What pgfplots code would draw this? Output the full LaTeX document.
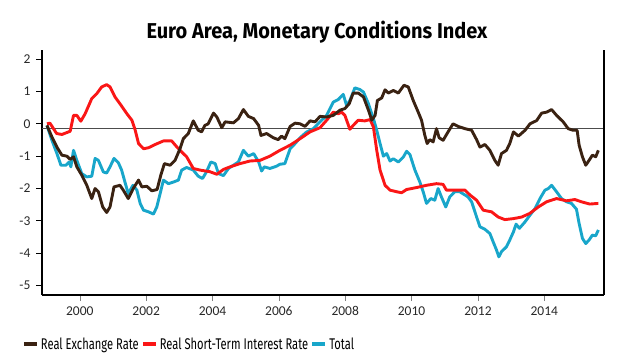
\documentclass[border=0pt]{standalone}
\usepackage{fontspec}
\usepackage{pgfplots}
\pgfplotsset{compat=1.18}
\setmainfont{Carlito}
\newfontfamily\titlefont{Fira Sans}[FakeStretch=0.93]
\newfontfamily\legfont{Fira Sans}[FakeStretch=0.72]
\definecolor{cbrown}{RGB}{58,34,18}
\definecolor{cred}{RGB}{250,22,22}
\definecolor{cblue}{RGB}{24,166,202}
\definecolor{ctick}{RGB}{40,40,40}
\begin{document}
\begin{tikzpicture}[x=1pt,y=1pt]
\useasboundingbox (0,0) rectangle (640,360);
\node[font=\titlefont\bfseries\fontsize{21.5}{24}\selectfont] at (317,328) {Euro Area, Monetary Conditions Index};
\begin{axis}[
  at={(42pt,65pt)}, anchor=south west,
  scale only axis, width=562pt, height=245pt,
  xmin=1998.86, xmax=2015.8, ymin=-5.29, ymax=2.28,
  axis x line*=bottom, axis y line*=left,
  axis line style={line width=1.8pt, black, -},
  xtick={2000,2002,...,2014}, ytick={-5,-4,...,2},
  tick align=outside, major tick length=6pt,
  x tick style={gray, line width=0.6pt},
  y tick style={black, line width=1pt},
  /pgf/number format/assume math mode=true,
  xticklabel style={/pgf/number format/1000 sep=, font=\fontsize{13.5}{15}\selectfont, text=ctick, yshift=-2pt},
  yticklabel style={font=\fontsize{13.5}{15}\selectfont, text=ctick, xshift=-2pt},
  clip=false,
  legend columns=-1,
  legend style={at={(-0.036,-0.2)}, anchor=west, draw=none, fill=none, inner sep=0pt,
    font=\legfont\fontsize{15.5}{17}\selectfont, text=black,
    /tikz/every even column/.append style={column sep=0pt}},
  legend image code/.code={\draw[#1, line width=4pt] (0pt,0pt) -- (13pt,0pt);},
  every axis plot/.append style={line width=2.9pt, line join=round},
]
\draw[gray!60!black, line width=1pt] (axis cs:1998.86,-0.15) -- (axis cs:2015.8,-0.15);
\draw[black, line width=1.8pt] (rel axis cs:1,0) -- (rel axis cs:1,1);
\addplot[cblue, forget plot] coordinates {
(1999.01,-0.05) (1999.16,-0.51) (1999.31,-0.92) (1999.43,-1.28) (1999.58,-1.28) (1999.68,-1.18) (1999.73,-1.33) (1999.81,-0.82) (1999.91,-1.13) (2000.06,-1.54) (2000.21,-1.64) (2000.36,-1.62) (2000.46,-1.07) (2000.56,-1.13) (2000.71,-1.49) (2000.81,-1.52) (2000.91,-1.33) (2001.03,-1.07) (2001.16,-1.2) (2001.26,-1.43) (2001.36,-1.8) (2001.46,-2.16) (2001.60,-1.9) (2001.72,-2.05) (2001.82,-2.46) (2001.92,-2.67) (2002.07,-2.72) (2002.22,-2.79) (2002.32,-2.57) (2002.42,-2.16) (2002.52,-1.74) (2002.67,-1.85) (2002.82,-1.8) (2002.97,-1.74) (2003.07,-1.43) (2003.22,-1.35) (2003.42,-1.43) (2003.57,-1.62) (2003.70,-1.69) (2003.82,-1.48) (2003.95,-1.18) (2004.08,-1.23) (2004.18,-1.54) (2004.33,-1.6) (2004.48,-1.38) (2004.63,-1.28) (2004.78,-1.18) (2004.93,-0.82) (2005.08,-1.0) (2005.24,-0.92) (2005.39,-1.18) (2005.48,-1.46) (2005.56,-1.33) (2005.73,-1.38) (2005.93,-1.31) (2006.03,-1.25) (2006.18,-1.23) (2006.34,-0.77) (2006.49,-0.61) (2006.64,-0.43) (2006.84,-0.25) (2007.04,-0.15) (2007.24,0.06) (2007.44,0.26) (2007.64,0.67) (2007.79,0.75) (2007.94,0.91) (2008.04,0.57) (2008.14,0.72) (2008.29,1.11) (2008.44,1.06) (2008.55,0.98) (2008.70,0.62) (2008.85,0.16) (2008.95,-0.2) (2009.05,-0.61) (2009.15,-1.0) (2009.25,-0.92) (2009.35,-1.15) (2009.45,-1.08) (2009.60,-1.18) (2009.75,-1.03) (2009.85,-0.85) (2009.95,-0.95) (2010.10,-1.43) (2010.25,-1.8) (2010.35,-2.1) (2010.45,-2.46) (2010.58,-2.31) (2010.70,-2.36) (2010.80,-2.0) (2010.90,-2.26) (2011.03,-2.57) (2011.15,-2.26) (2011.30,-2.1) (2011.45,-2.1) (2011.61,-2.2) (2011.70,-2.26) (2011.81,-2.41) (2011.96,-2.88) (2012.06,-3.18) (2012.21,-3.26) (2012.36,-3.39) (2012.46,-3.65) (2012.56,-3.9) (2012.63,-4.11) (2012.71,-3.95) (2012.86,-3.8) (2012.96,-3.59) (2013.07,-3.34) (2013.15,-3.1) (2013.25,-3.23) (2013.42,-3.03) (2013.57,-2.82) (2013.72,-2.62) (2013.87,-2.31) (2014.02,-2.05) (2014.12,-2.0) (2014.22,-1.9) (2014.37,-2.1) (2014.52,-2.31) (2014.67,-2.41) (2014.82,-2.46) (2014.97,-2.64) (2015.05,-3.08) (2015.15,-3.54) (2015.25,-3.7) (2015.35,-3.59) (2015.45,-3.44) (2015.55,-3.46) (2015.63,-3.28)
};
\addplot[cred, forget plot] coordinates {
(1999.01,0.0) (1999.10,0.02) (1999.30,-0.30) (1999.46,-0.33) (1999.71,-0.23) (1999.81,0.26) (1999.91,0.26) (2000.03,0.08) (2000.16,0.31) (2000.36,0.78) (2000.51,0.93) (2000.66,1.14) (2000.81,1.21) (2000.91,1.14) (2001.06,0.83) (2001.21,0.62) (2001.42,0.31) (2001.57,0.11) (2001.67,-0.2) (2001.77,-0.61) (2001.92,-0.77) (2002.07,-0.74) (2002.27,-0.64) (2002.52,-0.53) (2002.77,-0.53) (2002.92,-0.71) (2003.05,-0.85) (2003.22,-1.02) (2003.42,-1.38) (2003.62,-1.43) (2003.92,-1.48) (2004.13,-1.56) (2004.33,-1.41) (2004.53,-1.33) (2004.83,-1.23) (2005.13,-1.15) (2005.43,-1.13) (2005.73,-1.0) (2006.03,-0.82) (2006.34,-0.66) (2006.64,-0.46) (2006.94,-0.25) (2007.24,-0.12) (2007.44,0.11) (2007.64,0.36) (2007.79,0.31) (2007.89,0.36) (2007.99,0.26) (2008.14,-0.17) (2008.24,-0.05) (2008.39,0.11) (2008.59,0.09) (2008.75,0.13) (2008.85,-0.1) (2008.95,-0.82) (2009.05,-1.43) (2009.20,-1.9) (2009.35,-2.05) (2009.55,-2.1) (2009.70,-2.13) (2009.85,-2.03) (2010.15,-1.97) (2010.45,-1.9) (2010.75,-1.85) (2010.95,-1.87) (2011.05,-2.05) (2011.25,-2.05) (2011.61,-2.05) (2011.76,-2.2) (2011.96,-2.36) (2012.16,-2.67) (2012.41,-2.72) (2012.61,-2.88) (2012.81,-2.96) (2013.07,-2.93) (2013.32,-2.88) (2013.56,-2.77) (2013.82,-2.57) (2014.07,-2.41) (2014.37,-2.31) (2014.67,-2.38) (2014.92,-2.34) (2015.12,-2.41) (2015.37,-2.48) (2015.63,-2.46)
};
\addplot[cbrown, forget plot] coordinates {
(1999.01,-0.05) (1999.16,-0.41) (1999.31,-0.72) (1999.46,-0.97) (1999.61,-1.0) (1999.71,-1.1) (1999.81,-1.02) (1999.91,-1.33) (2000.06,-1.59) (2000.21,-1.9) (2000.36,-2.31) (2000.46,-2.0) (2000.56,-2.1) (2000.69,-2.57) (2000.81,-2.74) (2000.91,-2.57) (2001.03,-1.95) (2001.21,-1.9) (2001.31,-2.05) (2001.46,-2.31) (2001.61,-2.0) (2001.77,-1.74) (2001.87,-1.95) (2002.02,-1.93) (2002.17,-2.07) (2002.33,-2.03) (2002.44,-1.59) (2002.55,-1.23) (2002.72,-1.28) (2002.87,-1.13) (2003.02,-0.77) (2003.12,-0.46) (2003.27,-0.3) (2003.42,0.09) (2003.57,-0.2) (2003.67,-0.25) (2003.77,-0.05) (2003.87,0.0) (2004.03,0.33) (2004.13,0.21) (2004.28,-0.12) (2004.38,0.06) (2004.63,0.03) (2004.78,0.16) (2004.93,0.44) (2005.08,0.23) (2005.24,0.16) (2005.39,-0.05) (2005.46,-0.36) (2005.63,-0.3) (2005.83,-0.43) (2005.98,-0.49) (2006.08,-0.38) (2006.18,-0.46) (2006.34,-0.08) (2006.49,0.02) (2006.64,0.0) (2006.79,-0.08) (2006.94,0.09) (2007.09,0.06) (2007.24,0.23) (2007.44,0.21) (2007.64,0.26) (2007.84,0.42) (2007.99,0.47) (2008.12,0.62) (2008.24,0.95) (2008.39,0.95) (2008.55,0.83) (2008.70,0.42) (2008.80,0.11) (2008.90,0.26) (2008.97,0.72) (2009.10,0.8) (2009.20,1.05) (2009.30,0.95) (2009.45,1.03) (2009.60,0.95) (2009.77,1.19) (2009.90,1.14) (2010.05,0.72) (2010.20,0.36) (2010.30,0.11) (2010.40,-0.36) (2010.47,-0.61) (2010.55,-0.49) (2010.65,-0.56) (2010.75,-0.15) (2010.83,-0.43) (2010.95,-0.51) (2011.10,-0.25) (2011.25,0.0) (2011.40,-0.08) (2011.61,-0.15) (2011.81,-0.2) (2011.96,-0.49) (2012.06,-0.72) (2012.21,-0.64) (2012.36,-0.82) (2012.51,-1.13) (2012.61,-1.28) (2012.71,-0.92) (2012.86,-0.82) (2012.96,-0.61) (2013.07,-0.25) (2013.22,-0.38) (2013.42,-0.2) (2013.57,0.0) (2013.77,0.1) (2013.92,0.33) (2014.07,0.36) (2014.22,0.44) (2014.37,0.26) (2014.57,0.06) (2014.72,-0.15) (2014.87,-0.2) (2014.99,-0.2) (2015.05,-0.66) (2015.15,-1.02) (2015.25,-1.28) (2015.35,-1.13) (2015.45,-0.97) (2015.55,-1.02) (2015.63,-0.82)
};
\addlegendimage{cbrown}
\addlegendentry{Real Exchange Rate}
\addlegendimage{cred}
\addlegendentry{Real Short-Term Interest Rate}
\addlegendimage{cblue}
\addlegendentry{Total}
\end{axis}
\end{tikzpicture}
\end{document}
